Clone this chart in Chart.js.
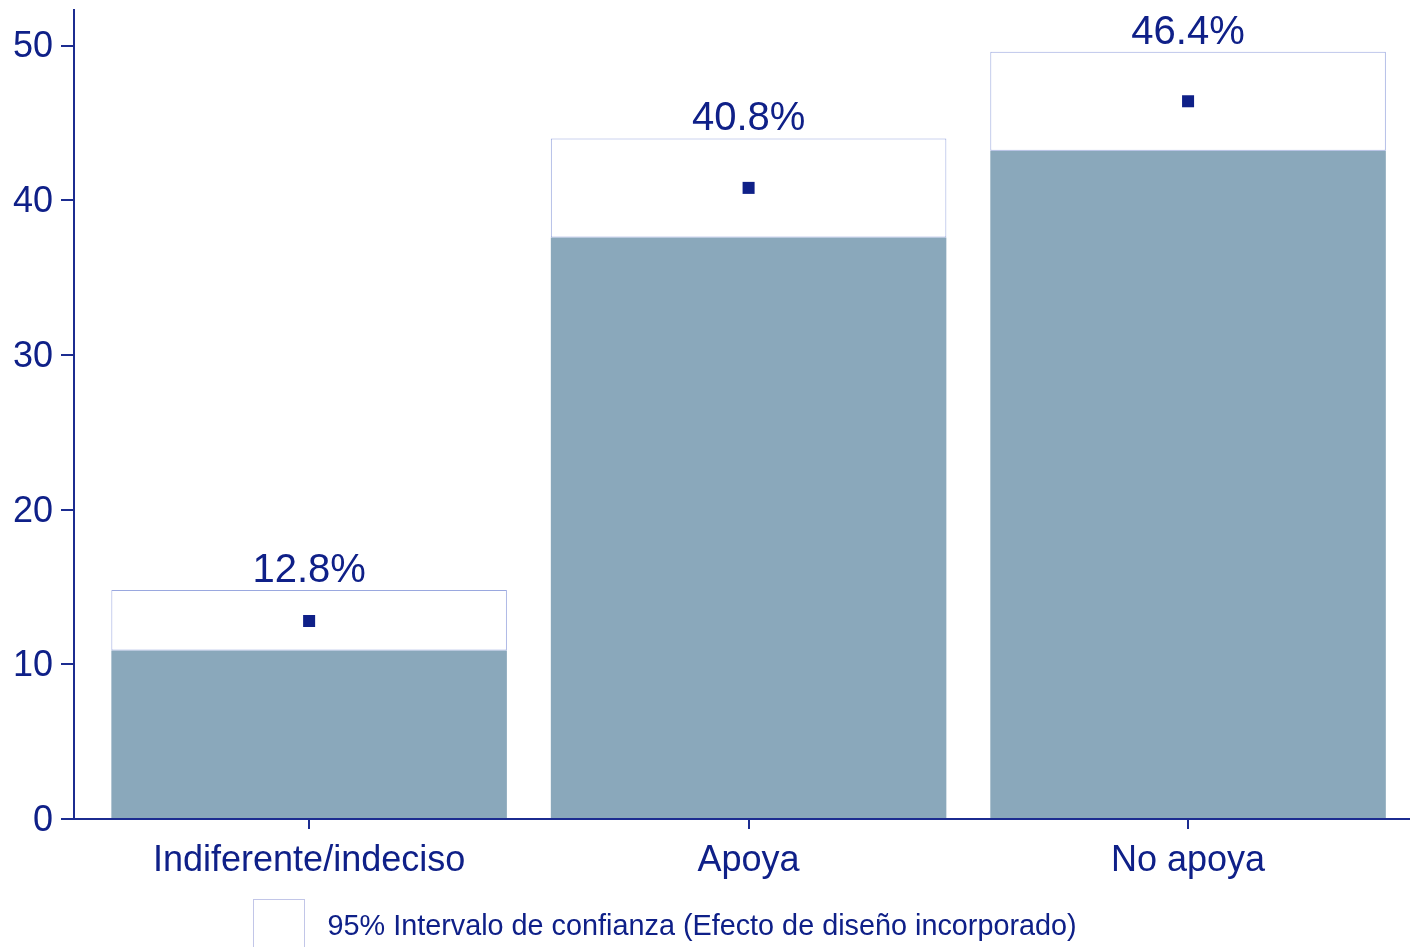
<!DOCTYPE html>
<html>
<head>
<meta charset="utf-8">
<script src="https://cdn.jsdelivr.net/npm/chart.js@4"></script>
<style>
  html, body { margin: 0; padding: 0; background: #ffffff; }
  #wrap { width: 1410px; height: 947px; }
</style>
</head>
<body>
<div id="wrap"><canvas id="grafico" width="1410" height="947"></canvas></div>
<script>
// datos
const CATEGORIAS = ["Indiferente/indeciso", "Apoya", "No apoya"];
const ESTIMADO   = [12.8, 40.8, 46.4];
const LIMITE_INF = [10.9, 37.6, 43.2];
const LIMITE_SUP = [14.8, 44.0, 49.6];
const Y_TICKS    = [0, 10, 20, 30, 40, 50];
const LEYENDA    = "95% Intervalo de confianza (Efecto de diseño incorporado)";

// estilos
const AZUL_TEXTO = "#0f2088";
const AZUL_EJE   = "#1c2c90";
const RELLENO    = "#8aa8bb";
const BORDE_IC   = "#9aa8df";
const FUENTE     = "'Liberation Sans', Arial, sans-serif";

const etiquetasValor = {
    id: "etiquetasValor",
    afterDatasetsDraw(chart) {
        const { ctx, scales: { x, y } } = chart;
        ctx.save();
        ctx.fillStyle = AZUL_TEXTO;
        ctx.font = "40px " + FUENTE;
        ctx.textAlign = "center";
        ctx.textBaseline = "alphabetic";
        ESTIMADO.forEach((v, i) => {
            ctx.fillText(v.toFixed(1) + "%", x.getPixelForValue(i), y.getPixelForValue(LIMITE_SUP[i]) - 8);
        });
        ctx.restore();
    }
};

const leyendaPropia = {
    id: "leyendaPropia",
    afterDraw(chart) {
        const { ctx, chartArea } = chart;
        const bx = chartArea.left + 179.5;
        const by = chartArea.bottom + 80.5;
        ctx.save();
        ctx.strokeStyle = "#c2c6e8";
        ctx.lineWidth = 1;
        ctx.fillStyle = "#ffffff";
        ctx.fillRect(bx, by, 51, 60);
        ctx.strokeRect(bx, by, 51, 60);
        ctx.fillStyle = AZUL_TEXTO;
        ctx.font = "28.8px " + FUENTE;
        ctx.textAlign = "left";
        ctx.textBaseline = "middle";
        ctx.fillText(LEYENDA, bx + 74, by + 28);
        ctx.restore();
    }
};

// sin relleno extra que Chart.js reserva para las etiquetas de los extremos
const sinRelleno = s => {
    s.paddingTop = 0;
    s.paddingBottom = 0;
    s.paddingLeft = 0;
    s.paddingRight = 0;
};

new Chart(document.getElementById("grafico"), {
    type: "bar",
    data: {
        datasets: [
            {
                type: "line",
                label: "Estimado",
                data: ESTIMADO.map((v, i) => ({ x: i, y: v })),
                showLine: false,
                pointStyle: "rect",
                pointRadius: 8.5,
                pointBorderWidth: 0,
                pointBackgroundColor: AZUL_TEXTO,
                order: 0
            },
            {
                label: LEYENDA,
                data: LIMITE_INF.map((v, i) => ({ x: i, y: [v, LIMITE_SUP[i]] })),
                backgroundColor: "#ffffff",
                borderColor: BORDE_IC,
                borderWidth: 1,
                borderSkipped: false,
                grouped: false,
                barPercentage: 0.9,
                categoryPercentage: 1,
                order: 1
            },
            {
                label: "Límite inferior",
                data: LIMITE_INF.map((v, i) => ({ x: i, y: v })),
                backgroundColor: RELLENO,
                borderWidth: 0,
                grouped: false,
                barPercentage: 0.9,
                categoryPercentage: 1,
                order: 2
            }
        ]
    },
    options: {
        responsive: false,
        animation: false,
        layout: { autoPadding: false, padding: { top: 10, right: 0, left: 0, bottom: 0 } },
        plugins: {
            legend: { display: false },
            tooltip: { enabled: false }
        },
        scales: {
            x: {
                type: "linear",
                min: -0.535,
                max: 2.505,
                offset: false,
                afterBuildTicks: s => { s.ticks = CATEGORIAS.map((c, i) => ({ value: i })); },
                afterFit: s => { s.height = 128; sinRelleno(s); },
                ticks: {
                    color: AZUL_TEXTO,
                    font: { family: FUENTE, size: 36 },
                    padding: 10,
                    maxRotation: 0,
                    autoSkip: false,
                    callback: v => CATEGORIAS[v]
                },
                grid: {
                    offset: false,
                    drawOnChartArea: false,
                    drawTicks: true,
                    tickLength: 10,
                    color: AZUL_EJE,
                    lineWidth: 2
                },
                border: { display: true, color: AZUL_EJE, width: 2 }
            },
            y: {
                min: 0,
                max: 52.3,
                afterBuildTicks: s => { s.ticks = Y_TICKS.map(v => ({ value: v })); },
                afterFit: s => { s.width = 74; sinRelleno(s); },
                ticks: {
                    color: AZUL_TEXTO,
                    font: { family: FUENTE, size: 36 },
                    padding: 8,
                    labelOffset: 2
                },
                grid: {
                    drawOnChartArea: false,
                    drawTicks: true,
                    tickLength: 13,
                    color: AZUL_EJE,
                    lineWidth: 2
                },
                border: { display: true, color: AZUL_EJE, width: 2 }
            }
        }
    },
    plugins: [etiquetasValor, leyendaPropia]
});
</script>
</body>
</html>
